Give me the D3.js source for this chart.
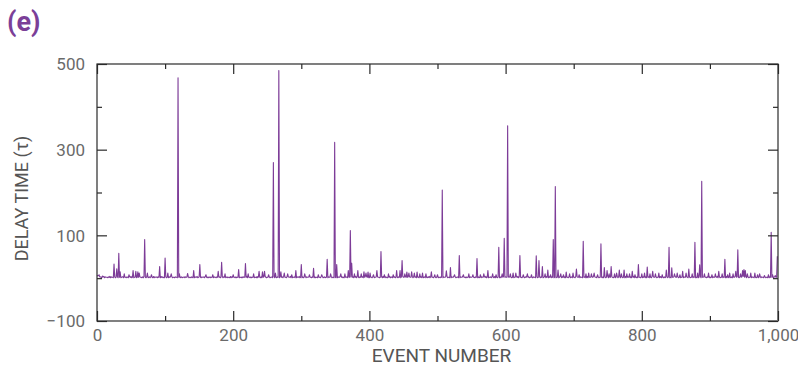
<!DOCTYPE html>
<html><head><meta charset="utf-8">
<script src="https://cdn.jsdelivr.net/npm/d3@7"></script>
<style>
html,body{margin:0;padding:0;background:#fff;}
svg text{font-family:Roboto,"Noto Sans",sans-serif;}
</style></head>
<body><svg id="c" width="798" height="367"></svg>
<script>
// ---- data ----
const panelLabel = "(e)";
const xTitle = "EVENT NUMBER";
const yTitle = "DELAY TIME (\u03c4)";
const xTicks = [0, 100, 200, 300, 400, 500, 600, 700, 800, 900, 1000];
const xTickLabels = ["0", "", "200", "", "400", "", "600", "", "800", "", "1,000"];
const yTicks = [-100, 0, 100, 200, 300, 400, 500];
const yTickLabels = ["\u2212100", "", "100", "", "300", "", "500"];

// baseline delay per event (hand-estimated, one digit per event)
const baselineRows = [
"5664332123 4132221324 1322143122 3132212331 4221321132 4123122312 4213221314 2213212313 2214132231 3221423121",
"2312213241 3122132213 2412312231 3221412213 2131322412 3121322314 2213123122 4132213212 3122413221 2312214132",
"3221312241 2213132212 4132213122 3122141322 1312231421 2213122313 4122132213 2231412213 1322413122 3121322412",
"2131224132 2312213241 3122132213 2412312231 3221412213 2131322412 3121322314 2213123122 4132213212 3122413221",
"1322143122 3132212331 4221321132 4123122312 4213221314 2213212313 2214132231 3221423121 2312213241 3122132213",
"4122132213 2231412213 1322413122 3121322412 2131224132 2312213241 3122132213 2412312231 3221412213 2131322412",
"3221423121 2312213241 3122132213 2412312231 1322143122 3132212331 4221321132 4123122312 4213221314 2213212313",
"2214132231 3221423121 4132221324 1322143122 2213123122 4132213212 3122413221 2312214132 3221312241 2213132212",
"4132213122 3122141322 1312231421 2213122313 3121322314 2213123122 4132213212 3122413221 2131224132 2312213241",
"3122132213 2412312231 3221412213 2131322412 3121322314 2213123122 4132213212 3122413221 2312214132 2211231222"
];
// spikes
const spikeEvents = [3,8,25,29,32,34,40,47,53,57,60,62,70,74,80,92,100,104,109,119,121,133,142,151,160,170,178,183,188,200,208,218,222,230,238,243,246,252,259,262,267,270,275,280,286,292,300,305,312,318,325,330,338,343,349,352,358,364,369,372,374,378,383,388,392,395,398,401,406,411,417,422,428,435,440,445,448,452,455,458,462,466,470,474,478,483,491,496,500,507,513,519,525,532,538,546,552,558,563,568,574,581,586,590,595,598,603,607,611,615,621,626,632,638,645,649,654,658,662,666,670,673,677,681,685,689,694,699,704,708,714,718,722,726,730,735,740,745,749,752,755,760,763,767,770,774,778,782,786,790,795,800,804,808,812,816,820,825,830,836,840,844,848,852,856,860,865,869,874,878,882,885,888,892,898,903,908,913,918,922,926,929,934,938,941,945,948,950,952,955,960,966,970,973,980,986,990,992,996,999];
const spikeValues = [8,5,33,22,58,15,10,8,18,16,15,12,90,12,8,27,47,12,10,468,10,11,18,32,8,8,16,37,10,8,20,34,10,10,16,15,16,8,270,12,485,15,12,10,8,18,32,10,8,23,8,8,44,10,317,32,10,10,18,111,35,10,18,10,15,12,14,12,8,18,62,8,10,8,18,18,41,10,14,12,15,12,14,10,12,10,15,8,8,206,17,25,8,53,8,10,8,46,8,10,18,10,8,72,10,93,356,10,12,12,53,8,10,8,52,41,27,10,19,8,90,214,19,10,8,14,10,12,21,8,86,10,12,10,12,8,80,25,18,10,27,10,12,19,10,19,10,10,16,8,32,10,12,26,10,16,10,12,8,19,72,24,10,12,8,16,12,21,10,84,12,31,226,10,12,8,10,16,10,44,8,12,10,16,66,10,18,20,18,10,12,12,8,10,6,8,107,8,6,51];

// ---- build series ----
const baseDigits = baselineRows.join("").replace(/\s/g, "");
const delays = Array.from(baseDigits, ch => +ch);
spikeEvents.forEach((e, i) => { delays[e] = spikeValues[i]; });
const series = delays.map((v, i) => ({event: i, delay: v}));

// ---- layout ----
const svg = d3.select("#c");
const L = 97, R = 778, T = 64, B = 321;
const x = d3.scaleLinear().domain([0, 1000]).range([L, R]);
const y = d3.scaleLinear().domain([-100, 500]).range([B, T]);
const purple = "#7d3c98";
const axisCol = "#2a2a2a";
const labCol = "#6a6a6a";

// data line
svg.append("path")
  .datum(series)
  .attr("fill", "none")
  .attr("stroke", purple)
  .attr("stroke-width", 1.1)
  .attr("stroke-linejoin", "round")
  .attr("d", d3.line().x(d => x(d.event)).y(d => y(d.delay)));

// frame
svg.append("rect").attr("x", L).attr("y", T).attr("width", R - L).attr("height", B - T)
  .attr("fill", "none").attr("stroke", axisCol).attr("stroke-width", 1.2);
svg.append("line").attr("x1", L).attr("x2", R).attr("y1", B).attr("y2", B)
  .attr("stroke", "#808080").attr("stroke-width", 2);

// axes with inward ticks
const isMajorX = v => v % 200 === 0;
const isMajorY = v => (v + 100) % 200 === 0;

const gxb = svg.append("g").attr("transform", `translate(0,${B})`)
  .call(d3.axisBottom(x).tickValues(xTicks).tickSize(0).tickFormat((d, i) => xTickLabels[i]));
const gxt = svg.append("g").attr("transform", `translate(0,${T})`)
  .call(d3.axisTop(x).tickValues(xTicks).tickSize(0).tickFormat(""));
const gyl = svg.append("g").attr("transform", `translate(${L},0)`)
  .call(d3.axisLeft(y).tickValues(yTicks).tickSize(0).tickFormat((d, i) => yTickLabels[i]));
const gyr = svg.append("g").attr("transform", `translate(${R},0)`)
  .call(d3.axisRight(y).tickValues(yTicks).tickSize(0).tickFormat(""));
[gxb, gxt, gyl, gyr].forEach(g => g.select(".domain").remove());

gxb.selectAll(".tick line").attr("stroke", axisCol).attr("stroke-width", 1.2)
  .attr("y2", d => isMajorX(d) ? -10 : -5);
gxt.selectAll(".tick line").attr("stroke", axisCol).attr("stroke-width", 1.2)
  .attr("y2", d => isMajorX(d) ? 10 : 5);
gyl.selectAll(".tick line").attr("stroke", axisCol).attr("stroke-width", 1.2)
  .attr("x2", d => isMajorY(d) ? 10 : 5);
gyr.selectAll(".tick line").attr("stroke", axisCol).attr("stroke-width", 1.2)
  .attr("x2", d => isMajorY(d) ? -10 : -5);

gxb.selectAll(".tick text").attr("fill", labCol).attr("font-size", 17)
  .attr("y", 8).attr("dy", "0.71em");
gyl.selectAll(".tick text").attr("fill", labCol).attr("font-size", 17)
  .attr("x", -12).attr("dy", "0.35em");

// titles
svg.append("text").attr("x", (L + R) / 2 + 4).attr("y", 362)
  .attr("text-anchor", "middle").attr("fill", "#555").attr("font-size", 19)
  .text(xTitle);
svg.append("text").attr("transform", `translate(28,${(T + B) / 2 + 6}) rotate(-90)`)
  .attr("text-anchor", "middle").attr("fill", "#555").attr("font-size", 18)
  .text(yTitle);
svg.append("text").attr("x", 7).attr("y", 31)
  .attr("fill", "#7b3f98").attr("font-size", 27).attr("font-weight", "bold")
  .text(panelLabel);
</script>
</body></html>
